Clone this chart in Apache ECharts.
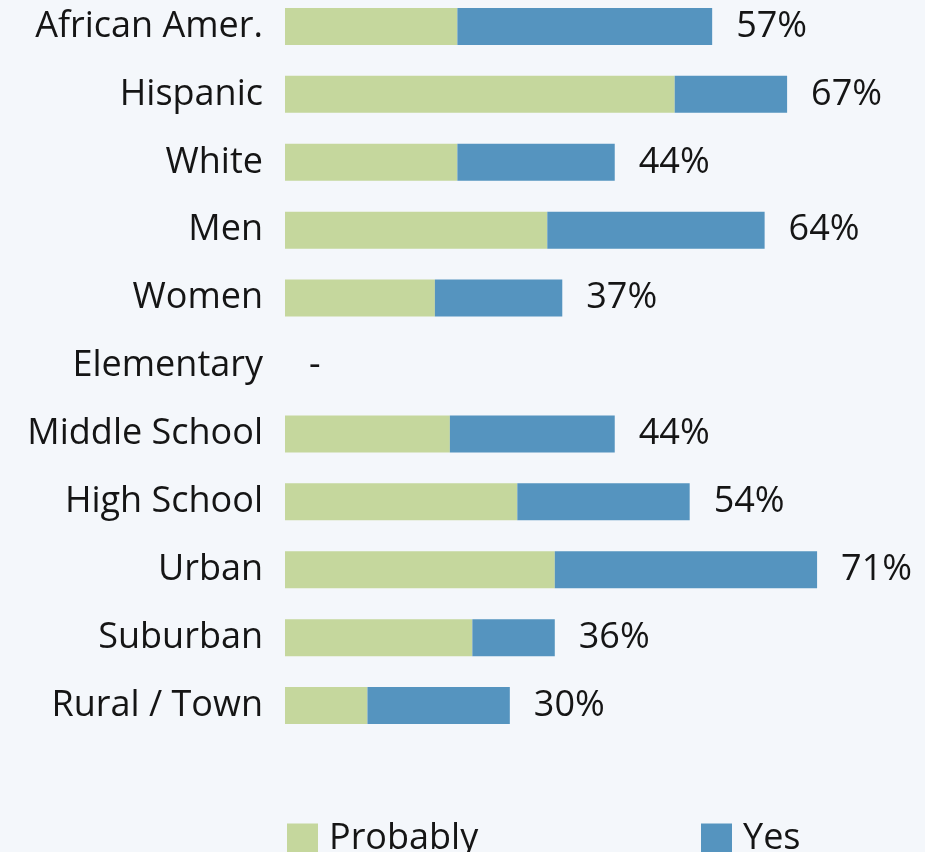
<!DOCTYPE html>
<html>
<head>
<meta charset="utf-8">
<script src="https://cdn.jsdelivr.net/npm/echarts@6/dist/echarts.min.js"></script>
<style>
  html, body { margin: 0; padding: 0; background: #f4f7fb; }
  #chart { width: 925px; height: 852px; }
</style>
</head>
<body>
<div id="chart"></div>
<script>
// Groups shown top to bottom
const categories = ['African Amer.', 'Hispanic', 'White', 'Men', 'Women', 'Elementary',
  'Middle School', 'High School', 'Urban', 'Suburban', 'Rural / Town'];
// Share answering "Probably" and "Yes" (percent); null = no data
const probably = [23, 52, 23, 35, 20, null, 22, 31, 36, 25, 11];
const yes      = [34, 15, 21, 29, 17, null, 22, 23, 35, 11, 19];
// Combined share printed at the end of each bar
const totalLabels = ['57%', '67%', '44%', '64%', '37%', '-', '44%', '54%', '71%', '36%', '30%'];

const GREEN = '#c5d79d';
const BLUE = '#5594bf';
const FONT = '"Open Sans", "Noto Sans", sans-serif';
const TEXT = '#151515';

const chart = echarts.init(document.getElementById('chart'));

chart.setOption({
  backgroundColor: '#f4f7fb',
  animation: false,
  textStyle: { fontFamily: FONT },
  grid: {
    left: 285, width: 637, top: -7.5, height: 747,
    containLabel: false, outerBoundsMode: 'none'
  },
  xAxis: {
    type: 'value', min: 0, max: 85,
    show: false
  },
  yAxis: {
    type: 'category',
    inverse: true,
    data: categories,
    axisLine: { show: false },
    axisTick: { show: false },
    splitLine: { show: false },
    axisLabel: { fontSize: 36, color: TEXT, margin: 22, fontFamily: FONT }
  },
  legend: [
    {
      data: ['Probably'], left: 282, top: 816,
      itemWidth: 31, itemHeight: 31, itemGap: 0,
      icon: 'rect',
      textStyle: { fontSize: 36, color: TEXT, fontFamily: FONT, padding: [0, 0, 0, 6] }
    },
    {
      data: ['Yes'], left: 696, top: 816,
      itemWidth: 31, itemHeight: 31, itemGap: 0,
      icon: 'rect',
      textStyle: { fontSize: 36, color: TEXT, fontFamily: FONT, padding: [0, 0, 0, 6] }
    }
  ],
  series: [
    {
      name: 'Probably', type: 'bar', stack: 'total',
      data: probably, barWidth: 37,
      itemStyle: { color: GREEN }
    },
    {
      name: 'Yes', type: 'bar', stack: 'total',
      data: yes.map(v => v === null ? 0 : v), barWidth: 37,
      itemStyle: { color: BLUE },
      label: {
        show: true, position: 'right', distance: 24,
        fontSize: 36, color: TEXT, fontFamily: FONT,
        formatter: p => totalLabels[p.dataIndex]
      }
    }
  ]
});
</script>
</body>
</html>
